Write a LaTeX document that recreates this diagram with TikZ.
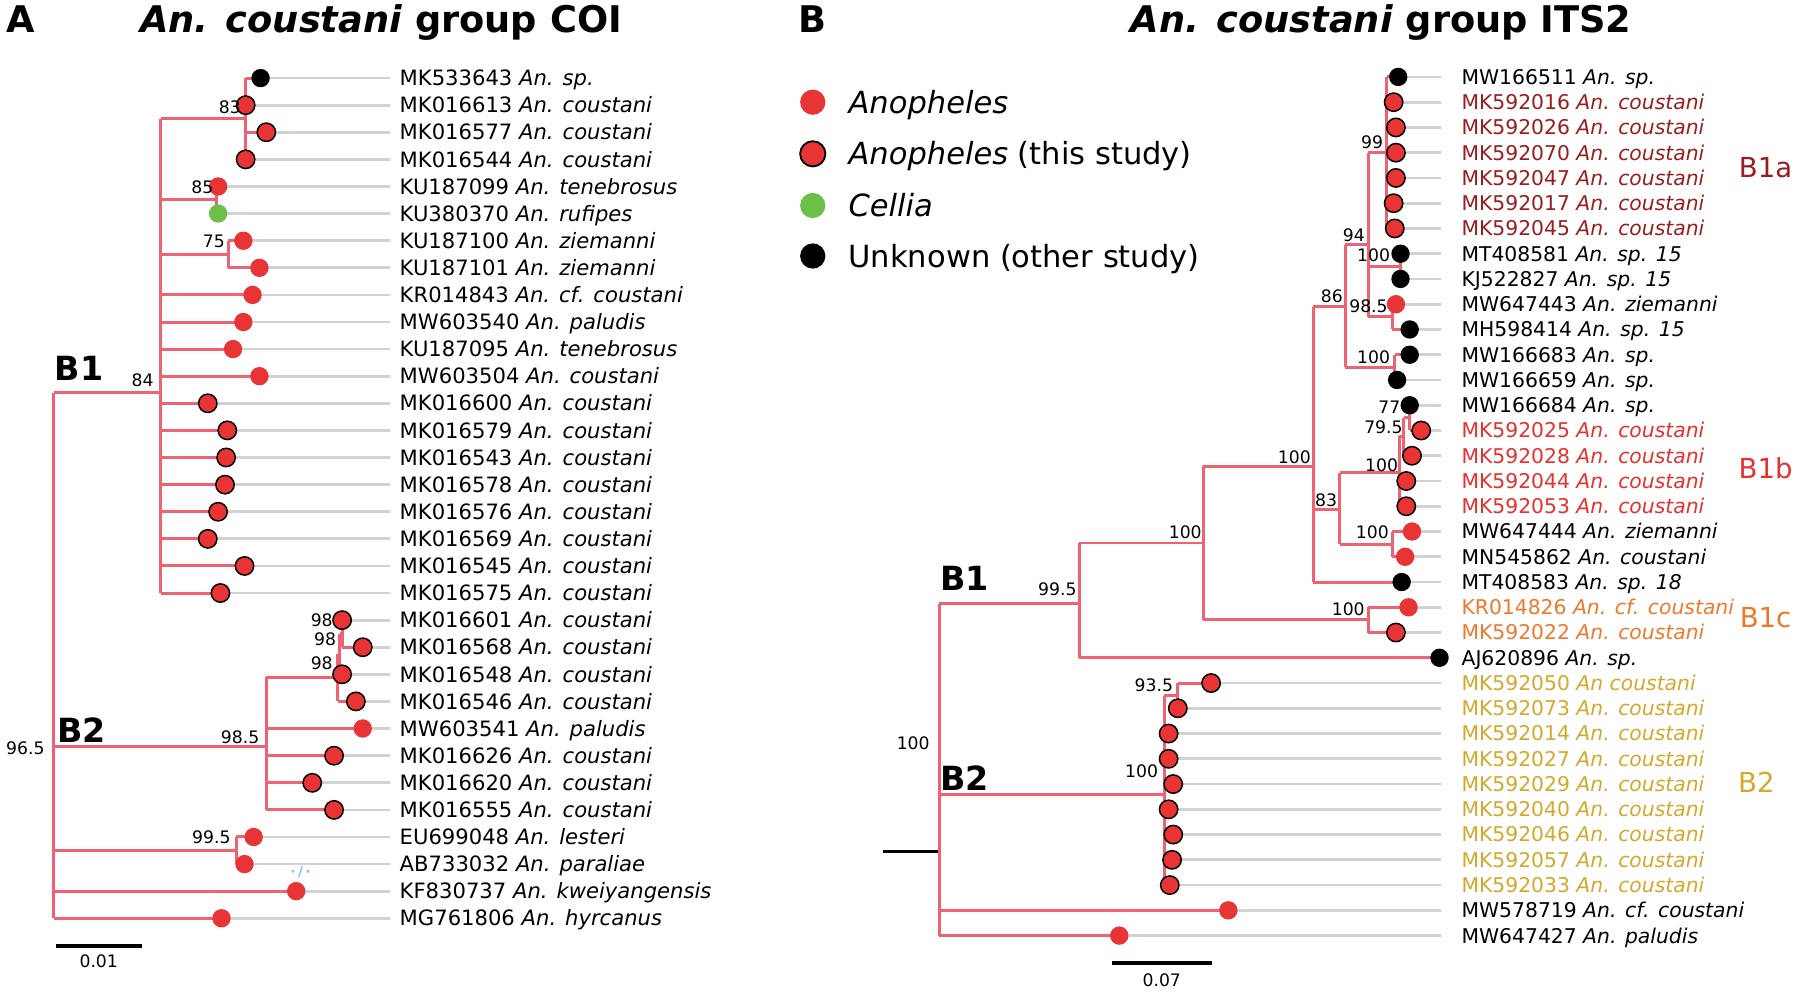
\documentclass[tikz,border=0pt]{standalone}
\usepackage{fontspec}
\setmainfont{DejaVu Sans}[ItalicFont={DejaVu Sans Oblique},BoldFont={DejaVu Sans Bold},BoldItalicFont={DejaVu Sans Bold Oblique}]
\usepackage{xcolor}
\usepackage{tikz}
\pgfdeclarelayer{edgelayer}
\pgfdeclarelayer{nodelayer}
\pgfsetlayers{edgelayer,nodelayer,main}
\definecolor{treepink}{HTML}{EF6272}
\definecolor{twiggrey}{HTML}{D2D2D2}
\definecolor{dotred}{HTML}{E83434}
\definecolor{dotgreen}{HTML}{6CBF48}
\definecolor{cladeBa}{HTML}{9A1C1E}
\definecolor{cladeBb}{HTML}{E8302E}
\definecolor{cladeBc}{HTML}{F0782C}
\definecolor{cladeBtwo}{HTML}{D3A82C}
\definecolor{faintcyan}{HTML}{7CC6DE}
\tikzset{
	treebranch/.style={draw=treepink, line width=2.6pt},
	leaftwig/.style={draw=twiggrey, line width=2.4pt},
	scaleline/.style={draw=black, line width=3pt},
	leafdot/.style={circle, inner sep=0pt, minimum size=16pt, fill=dotred},
	owndot/.style={leafdot, draw=black, line width=1.3pt},
	blackdot/.style={leafdot, fill=black},
	greendot/.style={leafdot, fill=dotgreen},
	taxonlbl/.style={anchor=west, inner sep=0pt, font=\fontsize{18.4}{20}\selectfont, text height=13.4pt, text depth=0pt},
	taxonlblb/.style={taxonlbl, font=\fontsize{17.7}{19}\selectfont, text height=12.9pt},
	bootlbl/.style={anchor=east, inner sep=0pt, font=\fontsize{15}{16}\selectfont, text height=10.9pt, text depth=0pt},
	cladelbl/.style={inner sep=0pt, font=\bfseries\fontsize{29}{30}\selectfont, text height=21pt, text depth=0pt},
	grouplbl/.style={inner sep=0pt, font=\fontsize{24}{26}\selectfont, text height=17.5pt, text depth=0pt},
	panellbl/.style={inner sep=0pt, font=\bfseries\fontsize{32}{34}\selectfont, text height=23.3pt, text depth=0pt},
	legenddot/.style={circle, inner sep=0pt, minimum size=22pt, fill=dotred},
	legendlbl/.style={anchor=west, inner sep=0pt, font=\fontsize{26.6}{28}\selectfont, text height=19.4pt, text depth=0pt}
}
\begin{document}
\begin{tikzpicture}[x=1pt,y=-1pt]
\useasboundingbox (0,0) rectangle (1568,868);
	\begin{pgfonlayer}{nodelayer}
		% panel titles
		\node[panellbl] (pa) at (18,17) {A};
		\node[panellbl, anchor=west] (titlea) at (122,17) {\textit{An. coustani} group COI};
		\node[panellbl] (pb) at (708,17) {B};
		\node[panellbl, anchor=west] (titleb) at (985,17) {\textit{An. coustani} group ITS2};
		% legend
		\node[legenddot] (l1) at (708,89) {};
		\node[legenddot, draw=black, line width=1.6pt] (l2) at (708,134) {};
		\node[legenddot, fill=dotgreen] (l3) at (708,179) {};
		\node[legenddot, fill=black] (l4) at (708,223) {};
		\node[legendlbl] (tl1) at (739,89) {\textit{Anopheles}};
		\node[legendlbl] (tl2) at (739,134) {\textit{Anopheles} (this study)};
		\node[legendlbl] (tl3) at (739,179) {\textit{Cellia}};
		\node[legendlbl] (tl4) at (739,223) {Unknown (other study)};
		% tree A, tips
		\node[blackdot] (a1) at (227,68) {};
		\node[owndot] (a2) at (214,91.6) {};
		\node[owndot] (a3) at (232,115.2) {};
		\node[owndot] (a4) at (214,138.8) {};
		\node[leafdot] (a5) at (190,162.4) {};
		\node[greendot] (a6) at (190,186) {};
		\node[leafdot] (a7) at (212,209.7) {};
		\node[leafdot] (a8) at (226,233.3) {};
		\node[leafdot] (a9) at (220,256.9) {};
		\node[leafdot] (a10) at (212,280.5) {};
		\node[leafdot] (a11) at (203,304.1) {};
		\node[leafdot] (a12) at (226,327.7) {};
		\node[owndot] (a13) at (181,351.3) {};
		\node[owndot] (a14) at (198,374.9) {};
		\node[owndot] (a15) at (197,398.5) {};
		\node[owndot] (a16) at (196,422.2) {};
		\node[owndot] (a17) at (190,445.8) {};
		\node[owndot] (a18) at (181,469.4) {};
		\node[owndot] (a19) at (213,493) {};
		\node[owndot] (a20) at (192,516.6) {};
		\node[owndot] (a21) at (298,540.2) {};
		\node[owndot] (a22) at (316,563.8) {};
		\node[owndot] (a23) at (298,587.4) {};
		\node[owndot] (a24) at (310,611) {};
		\node[leafdot] (a25) at (316,634.6) {};
		\node[owndot] (a26) at (291,658.3) {};
		\node[owndot] (a27) at (272,681.9) {};
		\node[owndot] (a28) at (291,705.5) {};
		\node[leafdot] (a29) at (221,729.1) {};
		\node[leafdot] (a30) at (213,752.7) {};
		\node[leafdot] (a31) at (258,776.3) {};
		\node[leafdot] (a32) at (193,799.9) {};
		% tree A, tip labels
		\node[taxonlbl] (ta1) at (348,68) {MK533643 \textit{An. sp.}};
		\node[taxonlbl] (ta2) at (348,91.6) {MK016613 \textit{An. coustani}};
		\node[taxonlbl] (ta3) at (348,115.2) {MK016577 \textit{An. coustani}};
		\node[taxonlbl] (ta4) at (348,138.8) {MK016544 \textit{An. coustani}};
		\node[taxonlbl] (ta5) at (348,162.4) {KU187099 \textit{An. tenebrosus}};
		\node[taxonlbl] (ta6) at (348,186) {KU380370 \textit{An. rufipes}};
		\node[taxonlbl] (ta7) at (348,209.7) {KU187100 \textit{An. ziemanni}};
		\node[taxonlbl] (ta8) at (348,233.3) {KU187101 \textit{An. ziemanni}};
		\node[taxonlbl] (ta9) at (348,256.9) {KR014843 \textit{An. cf. coustani}};
		\node[taxonlbl] (ta10) at (348,280.5) {MW603540 \textit{An. paludis}};
		\node[taxonlbl] (ta11) at (348,304.1) {KU187095 \textit{An. tenebrosus}};
		\node[taxonlbl] (ta12) at (348,327.7) {MW603504 \textit{An. coustani}};
		\node[taxonlbl] (ta13) at (348,351.3) {MK016600 \textit{An. coustani}};
		\node[taxonlbl] (ta14) at (348,374.9) {MK016579 \textit{An. coustani}};
		\node[taxonlbl] (ta15) at (348,398.5) {MK016543 \textit{An. coustani}};
		\node[taxonlbl] (ta16) at (348,422.2) {MK016578 \textit{An. coustani}};
		\node[taxonlbl] (ta17) at (348,445.8) {MK016576 \textit{An. coustani}};
		\node[taxonlbl] (ta18) at (348,469.4) {MK016569 \textit{An. coustani}};
		\node[taxonlbl] (ta19) at (348,493) {MK016545 \textit{An. coustani}};
		\node[taxonlbl] (ta20) at (348,516.6) {MK016575 \textit{An. coustani}};
		\node[taxonlbl] (ta21) at (348,540.2) {MK016601 \textit{An. coustani}};
		\node[taxonlbl] (ta22) at (348,563.8) {MK016568 \textit{An. coustani}};
		\node[taxonlbl] (ta23) at (348,587.4) {MK016548 \textit{An. coustani}};
		\node[taxonlbl] (ta24) at (348,611) {MK016546 \textit{An. coustani}};
		\node[taxonlbl] (ta25) at (348,634.6) {MW603541 \textit{An. paludis}};
		\node[taxonlbl] (ta26) at (348,658.3) {MK016626 \textit{An. coustani}};
		\node[taxonlbl] (ta27) at (348,681.9) {MK016620 \textit{An. coustani}};
		\node[taxonlbl] (ta28) at (348,705.5) {MK016555 \textit{An. coustani}};
		\node[taxonlbl] (ta29) at (348,729.1) {EU699048 \textit{An. lesteri}};
		\node[taxonlbl] (ta30) at (348,752.7) {AB733032 \textit{An. paraliae}};
		\node[taxonlbl] (ta31) at (348,776.3) {KF830737 \textit{An. kweiyangensis}};
		\node[taxonlbl] (ta32) at (348,799.9) {MG761806 \textit{An. hyrcanus}};
		% tree A, support values and clade names
		\node[bootlbl] (sa1) at (210,93) {83};
		\node[bootlbl] (sa2) at (186,163) {85};
		\node[bootlbl] (sa3) at (196,210) {75};
		\node[bootlbl] (sa4) at (134,331) {84};
		\node[bootlbl] (sa5) at (290,540) {98};
		\node[bootlbl] (sa6) at (293,557) {98};
		\node[bootlbl] (sa7) at (290,578) {98};
		\node[bootlbl] (sa8) at (226,642) {98.5};
		\node[bootlbl] (sa9) at (201,729) {99.5};
		\node[bootlbl] (sa10) at (39,652) {96.5};
		\node[inner sep=0pt, text=faintcyan, font=\bfseries\fontsize{12}{12}\selectfont] (kwmark) at (262,760) {\textperiodcentered\,/\,\textperiodcentered};
		\node[cladelbl] (cb1a) at (69,321) {B1};
		\node[cladelbl] (cb2a) at (71,636) {B2};
		\node[bootlbl, anchor=center] (scalea) at (86,837) {0.01};
		% tree B, tips
		\node[blackdot] (b1) at (1218,67) {};
		\node[owndot] (b2) at (1214,89) {};
		\node[owndot] (b3) at (1216,111) {};
		\node[owndot] (b4) at (1216,133) {};
		\node[owndot] (b5) at (1216,155) {};
		\node[owndot] (b6) at (1214,177) {};
		\node[owndot] (b7) at (1215,199) {};
		\node[blackdot] (b8) at (1220,221) {};
		\node[blackdot] (b9) at (1220,243) {};
		\node[leafdot] (b10) at (1216,265) {};
		\node[blackdot] (b11) at (1228,287) {};
		\node[blackdot] (b12) at (1228,309) {};
		\node[blackdot] (b13) at (1217,331) {};
		\node[blackdot] (b14) at (1228,353) {};
		\node[owndot] (b15) at (1238,375) {};
		\node[owndot] (b16) at (1230,397) {};
		\node[owndot] (b17) at (1225,419) {};
		\node[owndot] (b18) at (1225,441) {};
		\node[leafdot] (b19) at (1230,463) {};
		\node[leafdot] (b20) at (1224,485) {};
		\node[blackdot] (b21) at (1221,507) {};
		\node[leafdot] (b22) at (1227,529) {};
		\node[owndot] (b23) at (1216,551) {};
		\node[blackdot] (b24) at (1254,573) {};
		\node[owndot] (b25) at (1055,595) {};
		\node[owndot] (b26) at (1026,617) {};
		\node[owndot] (b27) at (1018,639) {};
		\node[owndot] (b28) at (1018,661) {};
		\node[owndot] (b29) at (1022,683) {};
		\node[owndot] (b30) at (1018,705) {};
		\node[owndot] (b31) at (1022,727) {};
		\node[owndot] (b32) at (1021,749) {};
		\node[owndot] (b33) at (1019,771) {};
		\node[leafdot] (b34) at (1070,793) {};
		\node[leafdot] (b35) at (975,815) {};
		% tree B, tip labels
		\node[taxonlblb] (tb1) at (1273,67) {MW166511 \textit{An. sp.}};
		\node[taxonlblb, text=cladeBa] (tb2) at (1273,89) {MK592016 \textit{An. coustani}};
		\node[taxonlblb, text=cladeBa] (tb3) at (1273,111) {MK592026 \textit{An. coustani}};
		\node[taxonlblb, text=cladeBa] (tb4) at (1273,133) {MK592070 \textit{An. coustani}};
		\node[taxonlblb, text=cladeBa] (tb5) at (1273,155) {MK592047 \textit{An. coustani}};
		\node[taxonlblb, text=cladeBa] (tb6) at (1273,177) {MK592017 \textit{An. coustani}};
		\node[taxonlblb, text=cladeBa] (tb7) at (1273,199) {MK592045 \textit{An. coustani}};
		\node[taxonlblb] (tb8) at (1273,221) {MT408581 \textit{An. sp. 15}};
		\node[taxonlblb] (tb9) at (1273,243) {KJ522827 \textit{An. sp. 15}};
		\node[taxonlblb] (tb10) at (1273,265) {MW647443 \textit{An. ziemanni}};
		\node[taxonlblb] (tb11) at (1273,287) {MH598414 \textit{An. sp. 15}};
		\node[taxonlblb] (tb12) at (1273,309) {MW166683 \textit{An. sp.}};
		\node[taxonlblb] (tb13) at (1273,331) {MW166659 \textit{An. sp.}};
		\node[taxonlblb] (tb14) at (1273,353) {MW166684 \textit{An. sp.}};
		\node[taxonlblb, text=cladeBb] (tb15) at (1273,375) {MK592025 \textit{An. coustani}};
		\node[taxonlblb, text=cladeBb] (tb16) at (1273,397) {MK592028 \textit{An. coustani}};
		\node[taxonlblb, text=cladeBb] (tb17) at (1273,419) {MK592044 \textit{An. coustani}};
		\node[taxonlblb, text=cladeBb] (tb18) at (1273,441) {MK592053 \textit{An. coustani}};
		\node[taxonlblb] (tb19) at (1273,463) {MW647444 \textit{An. ziemanni}};
		\node[taxonlblb] (tb20) at (1273,485) {MN545862 \textit{An. coustani}};
		\node[taxonlblb] (tb21) at (1273,507) {MT408583 \textit{An. sp. 18}};
		\node[taxonlblb, text=cladeBc] (tb22) at (1273,529) {KR014826 \textit{An. cf. coustani}};
		\node[taxonlblb, text=cladeBc] (tb23) at (1273,551) {MK592022 \textit{An. coustani}};
		\node[taxonlblb] (tb24) at (1273,573) {AJ620896 \textit{An. sp.}};
		\node[taxonlblb, text=cladeBtwo] (tb25) at (1273,595) {MK592050 \textit{An coustani}};
		\node[taxonlblb, text=cladeBtwo] (tb26) at (1273,617) {MK592073 \textit{An. coustani}};
		\node[taxonlblb, text=cladeBtwo] (tb27) at (1273,639) {MK592014 \textit{An. coustani}};
		\node[taxonlblb, text=cladeBtwo] (tb28) at (1273,661) {MK592027 \textit{An. coustani}};
		\node[taxonlblb, text=cladeBtwo] (tb29) at (1273,683) {MK592029 \textit{An. coustani}};
		\node[taxonlblb, text=cladeBtwo] (tb30) at (1273,705) {MK592040 \textit{An. coustani}};
		\node[taxonlblb, text=cladeBtwo] (tb31) at (1273,727) {MK592046 \textit{An. coustani}};
		\node[taxonlblb, text=cladeBtwo] (tb32) at (1273,749) {MK592057 \textit{An. coustani}};
		\node[taxonlblb, text=cladeBtwo] (tb33) at (1273,771) {MK592033 \textit{An. coustani}};
		\node[taxonlblb] (tb34) at (1273,793) {MW578719 \textit{An. cf. coustani}};
		\node[taxonlblb] (tb35) at (1273,815) {MW647427 \textit{An. paludis}};
		% tree B, support values and clade names
		\node[bootlbl] (sb1) at (938,513) {99.5};
		\node[bootlbl] (sb2) at (1047,464) {100};
		\node[bootlbl] (sb3) at (1142,398) {100};
		\node[bootlbl] (sb4) at (1170,258) {86};
		\node[bootlbl] (sb5) at (1189,205) {94};
		\node[bootlbl] (sb6) at (1205,124) {99};
		\node[bootlbl] (sb7) at (1211,222) {100};
		\node[bootlbl] (sb8) at (1209,267) {98.5};
		\node[bootlbl] (sb9) at (1211,311) {100};
		\node[bootlbl] (sb10) at (1165,436) {83};
		\node[bootlbl] (sb11) at (1218,405) {100};
		\node[bootlbl] (sb12) at (1222,372) {79.5};
		\node[bootlbl] (sb13) at (1220,355) {77};
		\node[bootlbl] (sb14) at (1210,464) {100};
		\node[bootlbl] (sb15) at (1189,531) {100};
		\node[bootlbl] (sb16) at (1022,597) {93.5};
		\node[bootlbl] (sb17) at (1009,672) {100};
		\node[bootlbl] (sb18) at (810,647) {100};
		\node[cladelbl] (cb1b) at (840,504) {B1};
		\node[cladelbl] (cb2b) at (840,678) {B2};
		\node[grouplbl, text=cladeBa] (gb1a) at (1538,146) {B1a};
		\node[grouplbl, text=cladeBb] (gb1b) at (1538,408) {B1b};
		\node[grouplbl, text=cladeBc] (gb1c) at (1538,538) {B1c};
		\node[grouplbl, text=cladeBtwo] (gb2) at (1530,682) {B2};
		\node[bootlbl, anchor=center] (scaleb) at (1012,854) {0.07};
	\end{pgfonlayer}
	\begin{pgfonlayer}{edgelayer}
		% tree A, inner nodes
		\coordinate (rA) at (47,571);
		\coordinate (nAB1) at (140,342);
		\coordinate (nAa) at (214,103.4);
		\coordinate (nAb) at (189,174.2);
		\coordinate (nAc) at (199,221.5);
		\coordinate (nAB2) at (232,650);
		\coordinate (nAd) at (294,590);
		\coordinate (nAe) at (296,569.7);
		\coordinate (nAf) at (298,552);
		\coordinate (nAg) at (206,740.9);
		\coordinate (endA) at (340,0);
		% grey twigs
		\draw[leaftwig] (a1.center) -- (a1 -| endA);
		\draw[leaftwig] (a2.center) -- (a2 -| endA);
		\draw[leaftwig] (a3.center) -- (a3 -| endA);
		\draw[leaftwig] (a4.center) -- (a4 -| endA);
		\draw[leaftwig] (a5.center) -- (a5 -| endA);
		\draw[leaftwig] (a6.center) -- (a6 -| endA);
		\draw[leaftwig] (a7.center) -- (a7 -| endA);
		\draw[leaftwig] (a8.center) -- (a8 -| endA);
		\draw[leaftwig] (a9.center) -- (a9 -| endA);
		\draw[leaftwig] (a10.center) -- (a10 -| endA);
		\draw[leaftwig] (a11.center) -- (a11 -| endA);
		\draw[leaftwig] (a12.center) -- (a12 -| endA);
		\draw[leaftwig] (a13.center) -- (a13 -| endA);
		\draw[leaftwig] (a14.center) -- (a14 -| endA);
		\draw[leaftwig] (a15.center) -- (a15 -| endA);
		\draw[leaftwig] (a16.center) -- (a16 -| endA);
		\draw[leaftwig] (a17.center) -- (a17 -| endA);
		\draw[leaftwig] (a18.center) -- (a18 -| endA);
		\draw[leaftwig] (a19.center) -- (a19 -| endA);
		\draw[leaftwig] (a20.center) -- (a20 -| endA);
		\draw[leaftwig] (a21.center) -- (a21 -| endA);
		\draw[leaftwig] (a22.center) -- (a22 -| endA);
		\draw[leaftwig] (a23.center) -- (a23 -| endA);
		\draw[leaftwig] (a24.center) -- (a24 -| endA);
		\draw[leaftwig] (a25.center) -- (a25 -| endA);
		\draw[leaftwig] (a26.center) -- (a26 -| endA);
		\draw[leaftwig] (a27.center) -- (a27 -| endA);
		\draw[leaftwig] (a28.center) -- (a28 -| endA);
		\draw[leaftwig] (a29.center) -- (a29 -| endA);
		\draw[leaftwig] (a30.center) -- (a30 -| endA);
		\draw[leaftwig] (a31.center) -- (a31 -| endA);
		\draw[leaftwig] (a32.center) -- (a32 -| endA);
		% branches
		\draw[treebranch] (rA |- nAB1) -- (rA |- a32);
		\draw[treebranch] (rA |- nAB1) -- (nAB1);
		\draw[treebranch] (rA |- nAB2) -- (nAB2);
		\draw[treebranch] (rA |- nAg) -- (nAg);
		\draw[treebranch] (rA |- a31) -- (a31.center);
		\draw[treebranch] (rA |- a32) -- (a32.center);
		\draw[treebranch] (nAB1 |- nAa) -- (nAB1 |- a20);
		\draw[treebranch] (nAB1 |- nAa) -- (nAa);
		\draw[treebranch] (nAB1 |- nAb) -- (nAb);
		\draw[treebranch] (nAB1 |- nAc) -- (nAc);
		\draw[treebranch] (nAB1 |- a9) -- (a9.center);
		\draw[treebranch] (nAB1 |- a10) -- (a10.center);
		\draw[treebranch] (nAB1 |- a11) -- (a11.center);
		\draw[treebranch] (nAB1 |- a12) -- (a12.center);
		\draw[treebranch] (nAB1 |- a13) -- (a13.center);
		\draw[treebranch] (nAB1 |- a14) -- (a14.center);
		\draw[treebranch] (nAB1 |- a15) -- (a15.center);
		\draw[treebranch] (nAB1 |- a16) -- (a16.center);
		\draw[treebranch] (nAB1 |- a17) -- (a17.center);
		\draw[treebranch] (nAB1 |- a18) -- (a18.center);
		\draw[treebranch] (nAB1 |- a19) -- (a19.center);
		\draw[treebranch] (nAB1 |- a20) -- (a20.center);
		\draw[treebranch] (nAa |- a1) -- (nAa |- a4);
		\draw[treebranch] (nAa |- a1) -- (a1.center);
		\draw[treebranch] (nAa |- a3) -- (a3.center);
		\draw[treebranch] (nAb |- a5) -- (nAb |- a6);
		\draw[treebranch] (nAc |- a7) -- (nAc |- a8);
		\draw[treebranch] (nAc |- a7) -- (a7.center);
		\draw[treebranch] (nAc |- a8) -- (a8.center);
		\draw[treebranch] (nAB2 |- nAd) -- (nAB2 |- a28);
		\draw[treebranch] (nAB2 |- nAd) -- (nAd);
		\draw[treebranch] (nAB2 |- a25) -- (a25.center);
		\draw[treebranch] (nAB2 |- a26) -- (a26.center);
		\draw[treebranch] (nAB2 |- a27) -- (a27.center);
		\draw[treebranch] (nAB2 |- a28) -- (a28.center);
		\draw[treebranch] (nAd |- nAe) -- (nAd |- a24);
		\draw[treebranch] (nAd |- nAe) -- (nAe);
		\draw[treebranch] (nAd |- a24) -- (a24.center);
		\draw[treebranch] (nAe |- nAf) -- (nAe |- a23);
		\draw[treebranch] (nAe |- nAf) -- (nAf);
		\draw[treebranch] (nAf |- a21) -- (nAf |- a22);
		\draw[treebranch] (nAf |- a22) -- (a22.center);
		\draw[treebranch] (nAg |- a29) -- (nAg |- a30);
		\draw[treebranch] (nAg |- a29) -- (a29.center);
		\draw[treebranch] (nAg |- a30) -- (a30.center);
		% scale A
		\coordinate (sa0) at (49,824);
		\coordinate (sa1x) at (124,824);
		\draw[scaleline] (sa0) -- (sa1x);
		% tree B, inner nodes
		\coordinate (rB) at (818,742);
		\coordinate (stemB) at (769,742);
		\coordinate (nBB1) at (940,526);
		\coordinate (nBx) at (1048,473);
		\coordinate (nBc) at (1192,540);
		\coordinate (nBy) at (1144,406);
		\coordinate (nBz) at (1172,267);
		\coordinate (nBz1) at (1192,213);
		\coordinate (nBa) at (1208,133);
		\coordinate (nBm) at (1220,232);
		\coordinate (nBp) at (1213,276);
		\coordinate (nBz2) at (1215,320);
		\coordinate (nBw) at (1167,444);
		\coordinate (nBw1) at (1219,412);
		\coordinate (nBv) at (1223,380);
		\coordinate (nBu) at (1228,364);
		\coordinate (nBw2) at (1213,474);
		\coordinate (nBB2) at (1014,692);
		\coordinate (nBq) at (1026,606);
		\coordinate (endB) at (1255,0);
		% grey twigs
		\draw[leaftwig] (b1.center) -- (b1 -| endB);
		\draw[leaftwig] (b2.center) -- (b2 -| endB);
		\draw[leaftwig] (b3.center) -- (b3 -| endB);
		\draw[leaftwig] (b4.center) -- (b4 -| endB);
		\draw[leaftwig] (b5.center) -- (b5 -| endB);
		\draw[leaftwig] (b6.center) -- (b6 -| endB);
		\draw[leaftwig] (b7.center) -- (b7 -| endB);
		\draw[leaftwig] (b8.center) -- (b8 -| endB);
		\draw[leaftwig] (b9.center) -- (b9 -| endB);
		\draw[leaftwig] (b10.center) -- (b10 -| endB);
		\draw[leaftwig] (b11.center) -- (b11 -| endB);
		\draw[leaftwig] (b12.center) -- (b12 -| endB);
		\draw[leaftwig] (b13.center) -- (b13 -| endB);
		\draw[leaftwig] (b14.center) -- (b14 -| endB);
		\draw[leaftwig] (b15.center) -- (b15 -| endB);
		\draw[leaftwig] (b16.center) -- (b16 -| endB);
		\draw[leaftwig] (b17.center) -- (b17 -| endB);
		\draw[leaftwig] (b18.center) -- (b18 -| endB);
		\draw[leaftwig] (b19.center) -- (b19 -| endB);
		\draw[leaftwig] (b20.center) -- (b20 -| endB);
		\draw[leaftwig] (b21.center) -- (b21 -| endB);
		\draw[leaftwig] (b22.center) -- (b22 -| endB);
		\draw[leaftwig] (b23.center) -- (b23 -| endB);
		\draw[leaftwig] (b25.center) -- (b25 -| endB);
		\draw[leaftwig] (b26.center) -- (b26 -| endB);
		\draw[leaftwig] (b27.center) -- (b27 -| endB);
		\draw[leaftwig] (b28.center) -- (b28 -| endB);
		\draw[leaftwig] (b29.center) -- (b29 -| endB);
		\draw[leaftwig] (b30.center) -- (b30 -| endB);
		\draw[leaftwig] (b31.center) -- (b31 -| endB);
		\draw[leaftwig] (b32.center) -- (b32 -| endB);
		\draw[leaftwig] (b33.center) -- (b33 -| endB);
		\draw[leaftwig] (b34.center) -- (b34 -| endB);
		\draw[leaftwig] (b35.center) -- (b35 -| endB);
		% branches
		\draw[draw=black, line width=2.6pt] (stemB) -- (rB);
		\draw[treebranch] (rB |- nBB1) -- (rB |- b35);
		\draw[treebranch] (rB |- nBB1) -- (nBB1);
		\draw[treebranch] (rB |- nBB2) -- (nBB2);
		\draw[treebranch] (rB |- b34) -- (b34.center);
		\draw[treebranch] (rB |- b35) -- (b35.center);
		\draw[treebranch] (nBB1 |- nBx) -- (nBB1 |- b24);
		\draw[treebranch] (nBB1 |- nBx) -- (nBx);
		\draw[treebranch] (nBB1 |- b24) -- (b24.center);
		\draw[treebranch] (nBx |- nBy) -- (nBx |- nBc);
		\draw[treebranch] (nBx |- nBy) -- (nBy);
		\draw[treebranch] (nBx |- nBc) -- (nBc);
		\draw[treebranch] (nBc |- b22) -- (nBc |- b23);
		\draw[treebranch] (nBc |- b22) -- (b22.center);
		\draw[treebranch] (nBc |- b23) -- (b23.center);
		\draw[treebranch] (nBy |- nBz) -- (nBy |- b21);
		\draw[treebranch] (nBy |- nBz) -- (nBz);
		\draw[treebranch] (nBy |- nBw) -- (nBw);
		\draw[treebranch] (nBy |- b21) -- (b21.center);
		\draw[treebranch] (nBz |- nBz1) -- (nBz |- nBz2);
		\draw[treebranch] (nBz |- nBz1) -- (nBz1);
		\draw[treebranch] (nBz |- nBz2) -- (nBz2);
		\draw[treebranch] (nBz1 |- nBa) -- (nBz1 |- nBp);
		\draw[treebranch] (nBz1 |- nBa) -- (nBa);
		\draw[treebranch] (nBz1 |- nBm) -- (nBm);
		\draw[treebranch] (nBz1 |- nBp) -- (nBp);
		\draw[treebranch] (nBa |- b1) -- (nBa |- b7);
		\draw[treebranch] (nBa |- b1) -- (b1.center);
		\draw[treebranch] (nBa |- b3) -- (b3.center);
		\draw[treebranch] (nBa |- b4) -- (b4.center);
		\draw[treebranch] (nBa |- b5) -- (b5.center);
		\draw[treebranch] (nBm |- b8) -- (nBm |- b9);
		\draw[treebranch] (nBp |- b10) -- (nBp |- b11);
		\draw[treebranch] (nBp |- b11) -- (b11.center);
		\draw[treebranch] (nBz2 |- b12) -- (nBz2 |- b13);
		\draw[treebranch] (nBz2 |- b12) -- (b12.center);
		\draw[treebranch] (nBw |- nBw1) -- (nBw |- nBw2);
		\draw[treebranch] (nBw |- nBw1) -- (nBw1);
		\draw[treebranch] (nBw |- nBw2) -- (nBw2);
		\draw[treebranch] (nBw1 |- nBv) -- (nBw1 |- b18);
		\draw[treebranch] (nBw1 |- nBv) -- (nBv);
		\draw[treebranch] (nBw1 |- b17) -- (b17.center);
		\draw[treebranch] (nBw1 |- b18) -- (b18.center);
		\draw[treebranch] (nBv |- nBu) -- (nBv |- b16);
		\draw[treebranch] (nBv |- nBu) -- (nBu);
		\draw[treebranch] (nBv |- b16) -- (b16.center);
		\draw[treebranch] (nBu |- b14) -- (nBu |- b15);
		\draw[treebranch] (nBu |- b15) -- (b15.center);
		\draw[treebranch] (nBw2 |- b19) -- (nBw2 |- b20);
		\draw[treebranch] (nBw2 |- b19) -- (b19.center);
		\draw[treebranch] (nBw2 |- b20) -- (b20.center);
		\draw[treebranch] (nBB2 |- nBq) -- (nBB2 |- b33);
		\draw[treebranch] (nBB2 |- nBq) -- (nBq);
		\draw[treebranch] (nBB2 |- b27) -- (b27.center);
		\draw[treebranch] (nBB2 |- b28) -- (b28.center);
		\draw[treebranch] (nBB2 |- b29) -- (b29.center);
		\draw[treebranch] (nBB2 |- b30) -- (b30.center);
		\draw[treebranch] (nBB2 |- b31) -- (b31.center);
		\draw[treebranch] (nBB2 |- b32) -- (b32.center);
		\draw[treebranch] (nBB2 |- b33) -- (b33.center);
		\draw[treebranch] (nBq |- b25) -- (nBq |- b26);
		\draw[treebranch] (nBq |- b25) -- (b25.center);
		% scale B
		\coordinate (sb0) at (969,839);
		\coordinate (sb1x) at (1056,839);
		\draw[scaleline] (sb0) -- (sb1x);
	\end{pgfonlayer}
\end{tikzpicture}
\end{document}
